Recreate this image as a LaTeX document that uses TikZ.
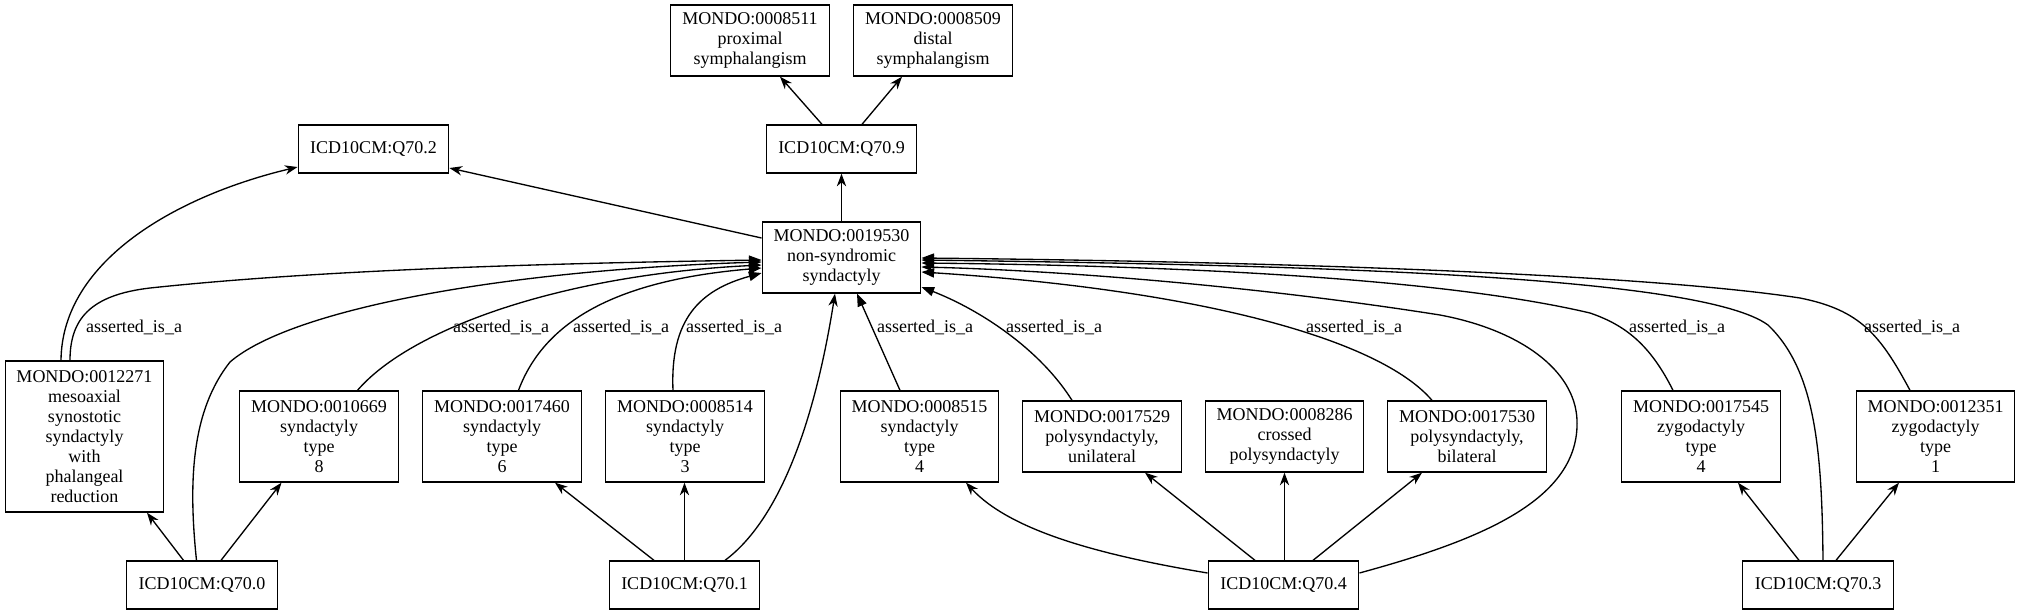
\documentclass[tikz,border=0pt]{standalone}
\usepackage{fontspec}
\setmainfont{Liberation Serif}
\usetikzlibrary{arrows.meta,calc}
\begin{document}
\begin{tikzpicture}[x=0.75pt,y=-0.75pt,
  box/.style={draw,line width=1pt,rectangle,inner sep=0pt,align=center,
    font=\fontsize{13.5}{15}\selectfont},
  mw/.style={box,minimum width=118.9pt},
  iw/.style={box,minimum width=112.9pt,minimum height=36pt},
  h3/.style={minimum height=53.25pt},
  h4/.style={minimum height=68.25pt},
  h6/.style={minimum height=113.25pt},
  isa/.style={line width=1pt,-{Triangle[length=9.5pt,width=7pt]}},
  vee/.style={line width=1pt,-{Stealth[length=9.5pt,width=7pt,inset=3pt]}},
  lbl/.style={inner sep=0pt,anchor=base,font=\fontsize{13.5}{15}\selectfont}
]
\useasboundingbox (0,0) rectangle (2021,615);
\fill[white] (0,0) rectangle (2021,615);

% nodes
\node[mw,h3] (m8511) at (750,40.5) {MONDO:0008511\\proximal\\symphalangism};
\node[mw,h3] (m8509) at (933,40.5) {MONDO:0008509\\distal\\symphalangism};
\node[iw] (q702) at (373.5,149) {ICD10CM:Q70.2};
\node[iw] (q709) at (841.5,149) {ICD10CM:Q70.9};
\node[mw,h3] (m19530) at (841.5,257.5) {MONDO:0019530\\non-syndromic\\syndactyly};
\node[mw,h6] (m12271) at (84.5,436.5) {MONDO:0012271\\mesoaxial\\synostotic\\syndactyly\\with\\phalangeal\\reduction};
\node[mw,h4] (m10669) at (319,436.5) {MONDO:0010669\\syndactyly\\type\\8};
\node[mw,h4] (m17460) at (502,436.5) {MONDO:0017460\\syndactyly\\type\\6};
\node[mw,h4] (m8514) at (685,436.5) {MONDO:0008514\\syndactyly\\type\\3};
\node[mw,h4] (m8515) at (919.5,436.5) {MONDO:0008515\\syndactyly\\type\\4};
\node[mw,h3] (m17529) at (1102,436.5) {MONDO:0017529\\polysyndactyly,\\unilateral};
\node[mw,h3] (m8286) at (1284.5,436.5) {MONDO:0008286\\crossed\\polysyndactyly};
\node[mw,h3] (m17530) at (1467,436.5) {MONDO:0017530\\polysyndactyly,\\bilateral};
\node[mw,h4] (m17545) at (1701,436.5) {MONDO:0017545\\zygodactyly\\type\\4};
\node[mw,h4] (m12351) at (1935.5,436.5) {MONDO:0012351\\zygodactyly\\type\\1};
\node[iw] (q700) at (202,585) {ICD10CM:Q70.0};
\node[iw] (q701) at (684.5,585) {ICD10CM:Q70.1};
\node[iw] (q704) at (1283.5,585) {ICD10CM:Q70.4};
\node[iw] (q703) at (1818,585) {ICD10CM:Q70.3};

% edge labels
\node[lbl] (l1) at (134,332) {asserted\_is\_a};
\node[lbl] (l2) at (501,332) {asserted\_is\_a};
\node[lbl] (l3) at (621,332) {asserted\_is\_a};
\node[lbl] (l4) at (734,332) {asserted\_is\_a};
\node[lbl] (l5) at (925,332) {asserted\_is\_a};
\node[lbl] (l6) at (1054,332) {asserted\_is\_a};
\node[lbl] (l7) at (1354,332) {asserted\_is\_a};
\node[lbl] (l8) at (1677,332) {asserted\_is\_a};
\node[lbl] (l9) at (1912,332) {asserted\_is\_a};

% upper edges
\draw[vee] (m19530.north) -- (q709.south);
\draw[vee] ($(q709.north)+(-19.5,0)$) -- ($(m8511.south)+(30,0)$);
\draw[vee] ($(q709.north)+(20.5,0)$) -- ($(m8509.south)+(-31,0)$);
\draw[vee] ($(m19530.west)+(0,-19.5)$) -- ($(q702.east)+(0,19)$);
\draw[vee] ($(m12271.north)+(-23.5,0)$) .. controls +(1,-101) and +(-118,28) .. ($(q702.west)+(0,18)$);

% left side into m19530
\draw[isa] ($(m12271.north)+(-14.5,0)$) .. controls +(0,-41) and +(-60,7) .. (150,288)
  .. controls +(150,-16) and +(-262,4) .. ($(m19530.west)+(0,2.5)$);
\draw[vee] ($(q700.north)+(-5.5,0)$) .. controls +(-8.5,-81) and +(-38,48) .. (230,362)
  .. controls +(60,-52) and +(-262,8) .. ($(m19530.west)+(0,4.5)$);
\draw[isa] ($(m10669.north)+(38.5,0)$) .. controls +(52.5,-61) and +(-202,10) .. ($(m19530.west)+(0,7.5)$);
\draw[isa] ($(m17460.north)+(16.5,0)$) .. controls +(26.5,-71) and +(-142,12) .. ($(m19530.west)+(0,10.5)$);
\draw[isa] ($(m8514.north)+(-12,0)$) .. controls +(-3,-71) and +(-62,17) .. ($(m19530.west)+(0,15.5)$);

% bottom into m19530
\draw[vee] ($(q701.north)+(40.5,0)$) .. controls +(55,-41) and +(-20,127) .. ($(m19530.south)+(-6.5,0)$);
\draw[isa] ($(m8515.north)+(-19.5,0)$) -- ($(m19530.south)+(15.5,0)$);
\draw[isa] ($(m17529.north)+(-30,0)$) .. controls +(-32,-51) and +(59,23) .. ($(m19530.east)+(0,29.5)$);

% right side into m19530
\draw[isa] ($(m17530.north)+(-35,0)$) .. controls +(-52,-61) and +(279,18) .. ($(m19530.east)+(0,14.5)$);
\draw[vee] ($(q704.east)+(0,-12)$) .. controls +(121,-33) and +(3,80) .. (1577,420)
  .. controls +(-2,-50) and +(80,15) .. (1440,315)
  .. controls +(-190,-30) and +(129,3) .. ($(m19530.east)+(0,9.5)$);
\draw[isa] ($(m17545.north)+(-28,0)$) .. controls +(-23,-46) and +(35,12) .. (1590,313)
  .. controls +(-140,-33) and +(279,3) .. ($(m19530.east)+(0,5.5)$);
\draw[vee] ($(q703.north)+(5,0)$) .. controls +(-1,-112) and +(47,45) .. (1768,325)
  .. controls +(-68,-50) and +(379,5) .. ($(m19530.east)+(0,2.5)$);
\draw[isa] ($(m12351.north)+(-25.5,0)$) .. controls +(-30,-56) and +(60,12) .. (1800,298)
  .. controls +(-150,-23) and +(379,4) .. ($(m19530.east)+(0,0.5)$);

% ICD to MONDO edges
\draw[vee] ($(q700.north)+(-18.5,0)$) -- ($(m12271.south)+(62.5,0)$);
\draw[vee] ($(q700.north)+(19,0)$) -- ($(m10669.south)+(-37.5,0)$);
\draw[vee] ($(q701.north)+(-30.5,0)$) -- ($(m17460.south)+(53,0)$);
\draw[vee] ($(q701.north)+(0,0)$) -- ($(m8514.south)+(-0.5,0)$);
\draw[vee] ($(q704.west)+(0,-12)$) .. controls +(-108,-18) and +(44,48) .. ($(m8515.south)+(46.5,0)$);
\draw[vee] ($(q704.north)+(-28.5,0)$) -- ($(m17529.south)+(43,0)$);
\draw[vee] ($(q704.north)+(1,0)$) -- ($(m8286.south)+(0,0)$);
\draw[vee] ($(q704.north)+(29.5,0)$) -- ($(m17530.south)+(-45,0)$);
\draw[vee] ($(q703.north)+(-19,0)$) -- ($(m17545.south)+(37,0)$);
\draw[vee] ($(q703.north)+(18,0)$) -- ($(m12351.south)+(-36.5,0)$);
\end{tikzpicture}
\end{document}
